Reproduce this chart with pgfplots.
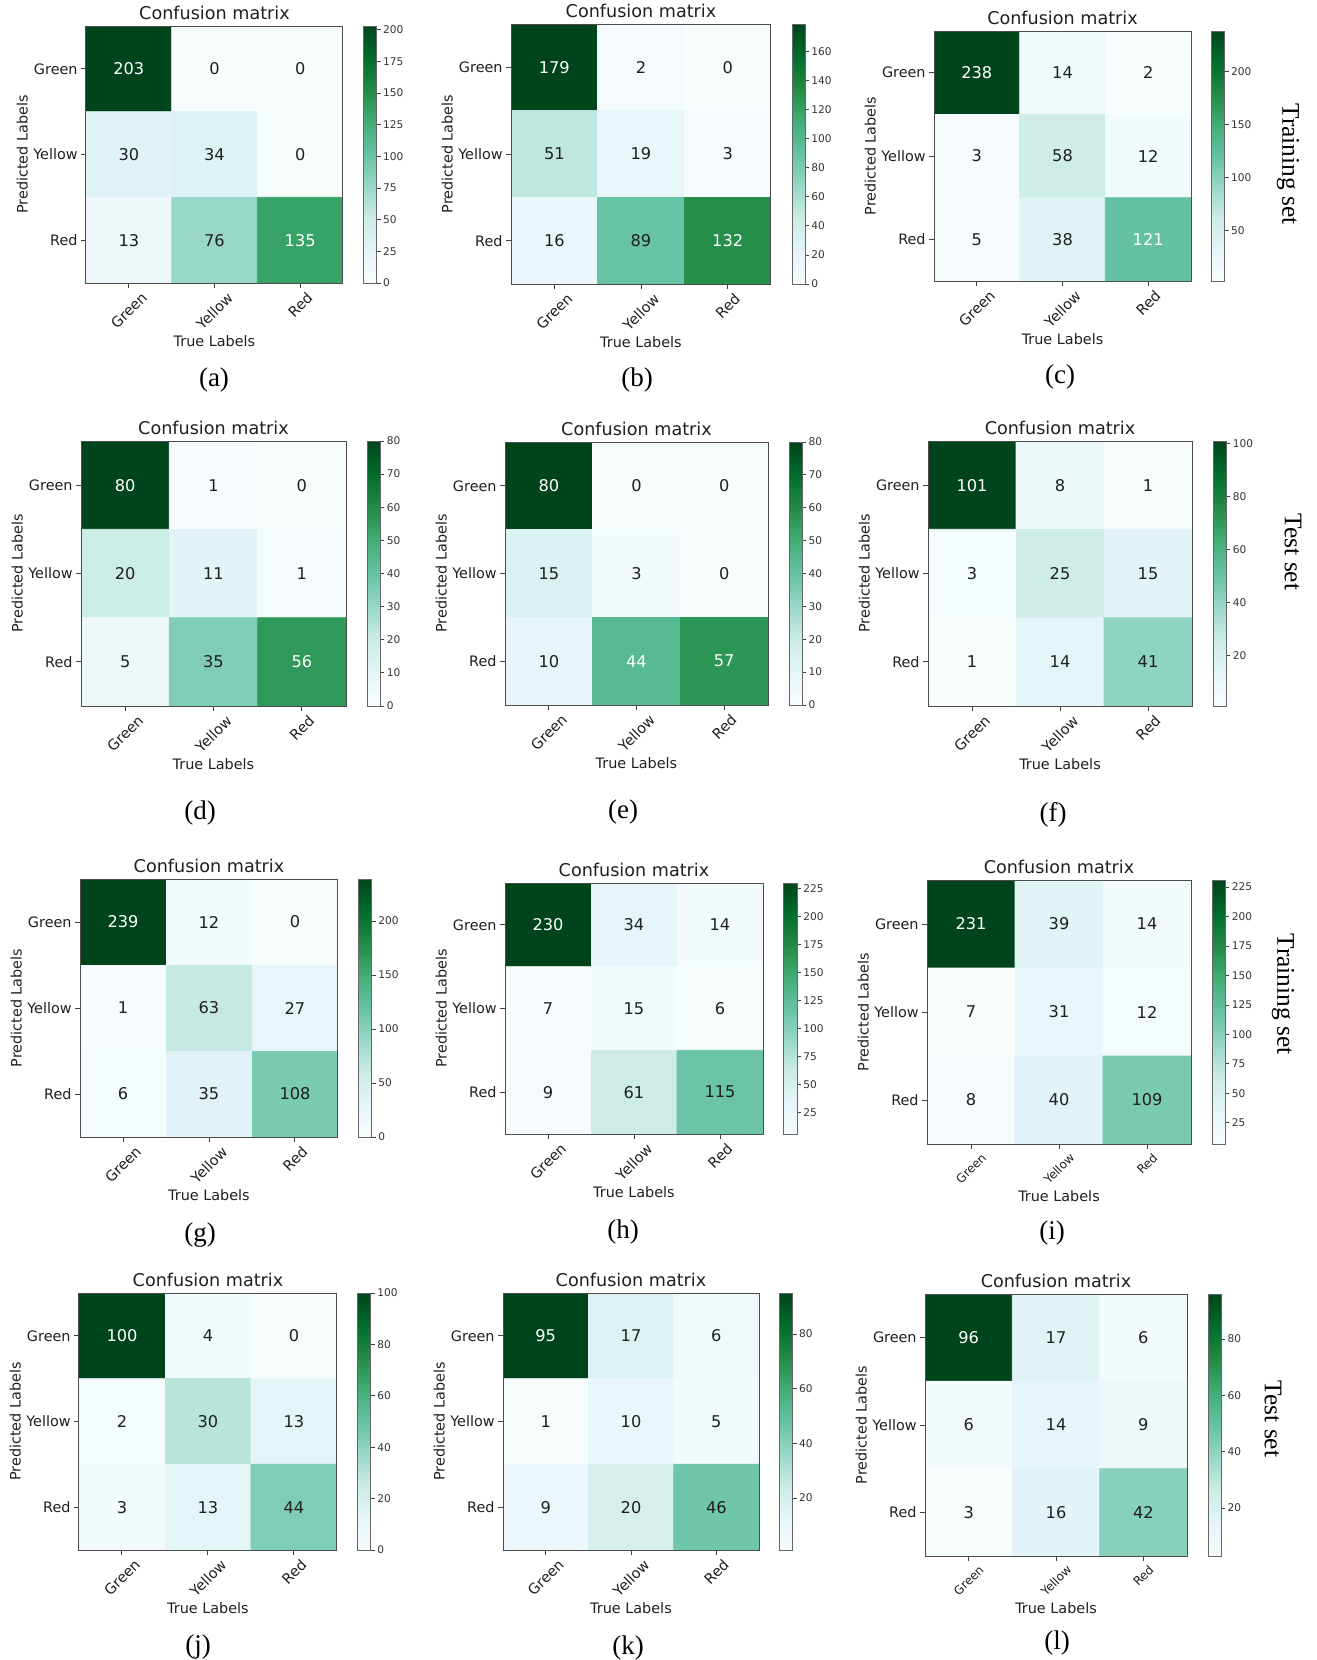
\documentclass[border=0pt]{standalone}
\usepackage{fontspec}
\setmainfont{DejaVu Sans}
\newfontfamily\serifft{Liberation Serif}
\usepackage{graphicx}
\usepackage{pgfplots}
\usepackage{pgfplotstable}
\pgfplotsset{compat=1.18}

\newcommand\fT{\fontsize{8.8}{10}\selectfont}
\newcommand\fK{\fontsize{7.2}{8.6}\selectfont}
\newcommand\fKs{\fontsize{6.0}{7.2}\selectfont}
\newcommand\fN{\fontsize{8.1}{9.7}\selectfont}
\newcommand\fC{\fontsize{5.3}{6.4}\selectfont}
\newcommand\fS{\fontsize{13.5}{16}\serifft}
\newcommand\fSide{\fontsize{12.7}{15}\serifft}

\pgfplotsset{
  colormap={bugn}{rgb255(0)=(247,252,253) rgb255(1)=(229,245,249) rgb255(2)=(204,236,230) rgb255(3)=(153,216,201) rgb255(4)=(102,194,164) rgb255(5)=(65,174,118) rgb255(6)=(35,139,69) rgb255(7)=(0,109,44) rgb255(8)=(0,68,27)},
  /pgf/number format/assume math mode=true,
  cmbase/.style={
    scale only axis, anchor=north west,
    colormap name=bugn,
    xmin=-0.5, xmax=2.5, ymin=-0.5, ymax=2.5, y dir=reverse,
    enlargelimits=false, axis on top,
    xtick={0,1,2}, ytick={0,1,2},
    xticklabels={\rotatebox{45}{Green},\rotatebox{45}{Yellow},\rotatebox{45}{Red}},
    yticklabels={Green,Yellow,Red},
    tick pos=left, tick align=outside, major tick length=2.5pt,
    every tick/.style={black!75, line width=0.5pt},
    axis line style={black!70, line width=0.5pt},
    ticklabel style={font=\fK, text=black!88},
    xticklabel style={inner sep=1.5pt},
    yticklabel style={inner sep=1.5pt},
    title={Confusion matrix},
    title style={font=\fT, text=black!88, at={(0.5,1)}, anchor=south, inner sep=1.5pt, yshift=-4.5pt},
    xlabel={True Labels}, ylabel={Predicted Labels},
    label style={font=\fK, text=black!88},
    xlabel style={inner sep=1pt},
    ylabel style={inner sep=1pt},
    colorbar,
    colorbar style={
      scale only axis, at={(1.081,1)}, anchor=north west,
      width=6.5pt,
      ytick pos=right, yticklabel pos=right, tick align=outside,
      major tick length=2pt,
      every tick/.style={black!75, line width=0.4pt},
      axis line style={black!60, line width=0.4pt},
      yticklabel style={font=\fC, text=black!80, inner sep=1pt},
    },
  },
}

\newcommand{\cmp}[9]{%
\begin{axis}[cmbase, at={(#1,-#2)}, width=#3, height=#4,
  point meta min=#5, point meta max=#6, colorbar style={ytick={#7}}, #9]
\addplot[matrix plot*, mesh/cols=3, point meta=explicit] table[meta=v]{#8};
\addplot[only marks, mark=none, nodes near coords, point meta=explicit symbolic,
  x filter/.expression={\thisrow{c}>0.5 ? nan : x}, unbounded coords=discard,
  nodes near coords style={anchor=center, font=\fN, text=black!88}] table[meta=v]{#8};
\addplot[only marks, mark=none, nodes near coords, point meta=explicit symbolic,
  x filter/.expression={\thisrow{c}>0.5 ? x : nan}, unbounded coords=discard,
  nodes near coords style={anchor=center, font=\fN, text=white}] table[meta=v]{#8};
\end{axis}}

\pgfplotstableread{
x y v c
0 0 203 1
1 0 0 0
2 0 0 0
0 1 30 0
1 1 34 0
2 1 0 0
0 2 13 0
1 2 76 0
2 2 135 1
}\tA
\pgfplotstableread{
x y v c
0 0 179 1
1 0 2 0
2 0 0 0
0 1 51 0
1 1 19 0
2 1 3 0
0 2 16 0
1 2 89 0
2 2 132 1
}\tB
\pgfplotstableread{
x y v c
0 0 238 1
1 0 14 0
2 0 2 0
0 1 3 0
1 1 58 0
2 1 12 0
0 2 5 0
1 2 38 0
2 2 121 1
}\tC
\pgfplotstableread{
x y v c
0 0 80 1
1 0 1 0
2 0 0 0
0 1 20 0
1 1 11 0
2 1 1 0
0 2 5 0
1 2 35 0
2 2 56 1
}\tD
\pgfplotstableread{
x y v c
0 0 80 1
1 0 0 0
2 0 0 0
0 1 15 0
1 1 3 0
2 1 0 0
0 2 10 0
1 2 44 1
2 2 57 1
}\tE
\pgfplotstableread{
x y v c
0 0 101 1
1 0 8 0
2 0 1 0
0 1 3 0
1 1 25 0
2 1 15 0
0 2 1 0
1 2 14 0
2 2 41 0
}\tF
\pgfplotstableread{
x y v c
0 0 239 1
1 0 12 0
2 0 0 0
0 1 1 0
1 1 63 0
2 1 27 0
0 2 6 0
1 2 35 0
2 2 108 0
}\tG
\pgfplotstableread{
x y v c
0 0 230 1
1 0 34 0
2 0 14 0
0 1 7 0
1 1 15 0
2 1 6 0
0 2 9 0
1 2 61 0
2 2 115 0
}\tH
\pgfplotstableread{
x y v c
0 0 231 1
1 0 39 0
2 0 14 0
0 1 7 0
1 1 31 0
2 1 12 0
0 2 8 0
1 2 40 0
2 2 109 0
}\tI
\pgfplotstableread{
x y v c
0 0 100 1
1 0 4 0
2 0 0 0
0 1 2 0
1 1 30 0
2 1 13 0
0 2 3 0
1 2 13 0
2 2 44 0
}\tJ
\pgfplotstableread{
x y v c
0 0 95 1
1 0 17 0
2 0 6 0
0 1 1 0
1 1 10 0
2 1 5 0
0 2 9 0
1 2 20 0
2 2 46 0
}\tK
\pgfplotstableread{
x y v c
0 0 96 1
1 0 17 0
2 0 6 0
0 1 6 0
1 1 14 0
2 1 9 0
0 2 3 0
1 2 16 0
2 2 42 0
}\tL

\begin{document}
\begin{tikzpicture}
\path[use as bounding box] (0,0) rectangle (658.5pt,-830pt);

\cmp{43pt}{13pt}{128.5pt}{128.5pt}{0}{203}{0,25,...,200}{\tA}{}
\cmp{255.5pt}{12pt}{130pt}{130pt}{0}{179}{0,20,...,160}{\tB}{}
\cmp{467pt}{15.5pt}{128.5pt}{125pt}{2}{238}{50,100,150,200}{\tC}{}

\cmp{40.5pt}{220.5pt}{132.5pt}{132.5pt}{0}{80}{0,10,...,80}{\tD}{}
\cmp{252.5pt}{221pt}{131.5pt}{131.5pt}{0}{80}{0,10,...,80}{\tE}{}
\cmp{464pt}{220.5pt}{132pt}{132.5pt}{1}{101}{20,40,...,100}{\tF}{}

\cmp{40pt}{439.5pt}{129pt}{129pt}{0}{239}{0,50,...,200}{\tG}{}
\cmp{252.5pt}{441.5pt}{129pt}{125.5pt}{6}{230}{25,50,...,225}{\tH}{}
\cmp{463.5pt}{440pt}{132pt}{132pt}{7}{231}{25,50,...,225}{\tI}{xticklabel style={font=\fKs}}

\cmp{39.5pt}{646.5pt}{129pt}{128.5pt}{0}{100}{0,20,...,100}{\tJ}{}
\cmp{251.5pt}{646.5pt}{128pt}{128.5pt}{1}{95}{20,40,60,80}{\tK}{}
\cmp{462.5pt}{647pt}{131pt}{131pt}{3}{96}{20,40,60,80}{\tL}{xticklabel style={font=\fKs}}

\node[font=\fS] at (107pt,-190pt) {(a)};
\node[font=\fS] at (318.5pt,-190pt) {(b)};
\node[font=\fS] at (530pt,-188.5pt) {(c)};
\node[font=\fS] at (100pt,-406.5pt) {(d)};
\node[font=\fS] at (311.5pt,-406pt) {(e)};
\node[font=\fS] at (526.5pt,-407.5pt) {(f)};
\node[font=\fS] at (100pt,-617.5pt) {(g)};
\node[font=\fS] at (311.5pt,-616pt) {(h)};
\node[font=\fS] at (526pt,-616.5pt) {(i)};
\node[font=\fS] at (99pt,-823.5pt) {(j)};
\node[font=\fS] at (314pt,-824pt) {(k)};
\node[font=\fS] at (528.5pt,-821.5pt) {(l)};

\node[font=\fSide, rotate=-90] at (644pt,-82pt) {Training set};
\node[font=\fSide, rotate=-90] at (646.5pt,-276pt) {Test set};
\node[font=\fSide, rotate=-90] at (641.5pt,-497pt) {Training set};
\node[font=\fSide, rotate=-90] at (636.5pt,-709.5pt) {Test set};
\end{tikzpicture}
\end{document}
